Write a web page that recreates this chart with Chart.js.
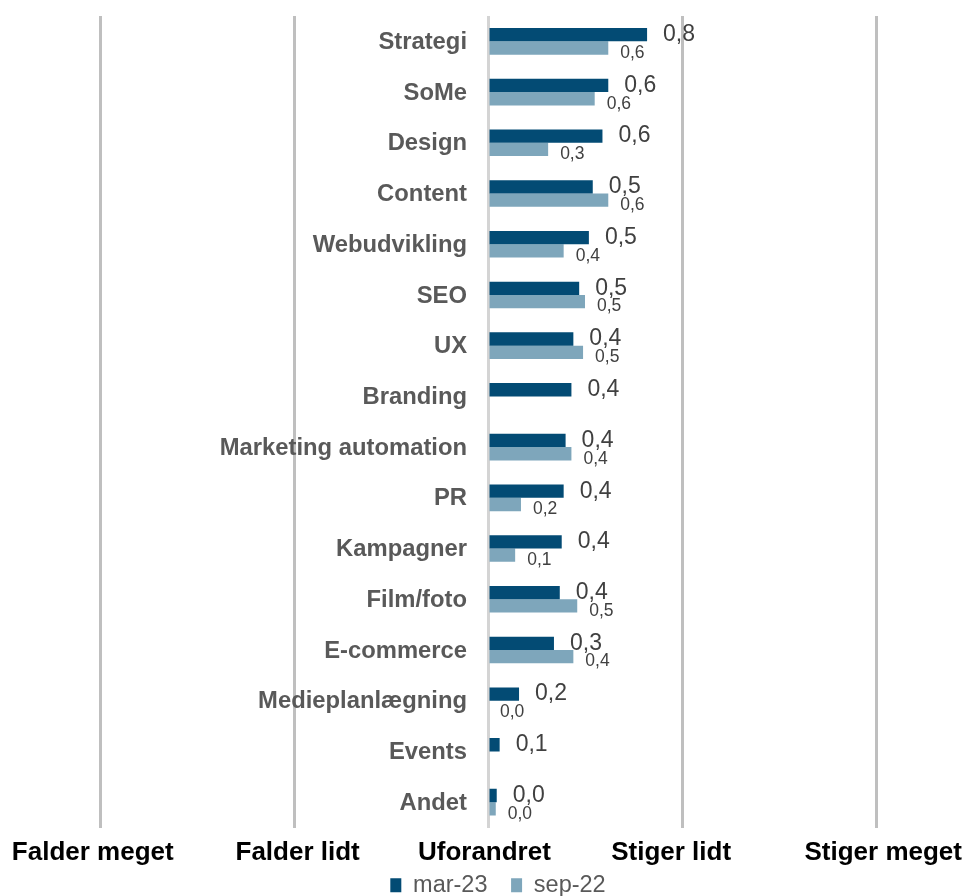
<!DOCTYPE html>
<html>
<head>
<meta charset="utf-8">
<script src="https://cdn.jsdelivr.net/npm/chart.js@4"></script>
<style>
  html, body { margin: 0; padding: 0; background: #fff; }
  #wrap { width: 965px; height: 896px; position: relative; }
</style>
</head>
<body>
<div id="wrap"><canvas id="c"></canvas></div>
<script>
const categories = ["Strategi","SoMe","Design","Content","Webudvikling","SEO","UX","Branding","Marketing automation","PR","Kampagner","Film/foto","E-commerce","Medieplanlægning","Events","Andet"];
const mar23 = [0.82,0.62,0.59,0.54,0.52,0.47,0.44,0.43,0.40,0.39,0.38,0.37,0.34,0.16,0.06,0.045];
const sep22 = [0.62,0.55,0.31,0.62,0.39,0.50,0.49,null,0.43,0.17,0.14,0.46,0.44,0.0,null,0.04];
const xTickLabels = {"-2":"Falder meget  ","-1":" Falder lidt","0":"Uforandret ","1":"Stiger lidt   ","2":"  Stiger meget"};
const seriesNames = ["mar-23","sep-22"];

const FONT = "'Liberation Sans', Arial, sans-serif";

const valueLabels = {
  id: 'valueLabels',
  afterLayout(chart) {
    // nudge legend slightly right, as in the reference
    if (chart.legend) {
      chart.legend.left += 10;
      chart.legend.right += 10;
      if (chart.legend.legendHitBoxes) chart.legend.legendHitBoxes.forEach(h => { h.left += 10; });
    }
  },
  afterDatasetsDraw(chart) {
    const ctx = chart.ctx;
    ctx.save();
    // category labels drawn next to the zero axis
    const xs = chart.scales.x, ys = chart.scales.y;
    const x0 = xs.getPixelForValue(0);
    ctx.font = 'bold 23.8px ' + FONT;
    ctx.fillStyle = '#595959';
    ctx.textAlign = 'right';
    ctx.textBaseline = 'middle';
    chart.data.labels.forEach((lab, i) => {
      ctx.fillText(lab, x0 - 21, ys.getPixelForValue(i) + 1);
    });
    // value labels
    chart.data.datasets.forEach((ds, di) => {
      const meta = chart.getDatasetMeta(di);
      meta.data.forEach((bar, i) => {
        const v = ds.data[i];
        if (v === null || v === undefined) return;
        const txt = v.toFixed(1).replace('.', ',');
        ctx.fillStyle = '#404040';
        ctx.textAlign = 'left';
        ctx.textBaseline = 'middle';
        if (di === 0) {
          ctx.font = '23px ' + FONT;
          ctx.fillText(txt, bar.x + 16, bar.y);
        } else {
          ctx.font = '17.5px ' + FONT;
          ctx.fillText(txt, bar.x + 12, bar.y + 5);
        }
      });
    });
    ctx.restore();
  }
};

new Chart(document.getElementById('c'), {
  type: 'bar',
  data: {
    labels: categories,
    datasets: [
      { label: seriesNames[0], data: mar23, backgroundColor: '#034b74', borderWidth: 0, categoryPercentage: 0.525, barPercentage: 1.0 },
      { label: seriesNames[1], data: sep22, backgroundColor: '#7ea6bb', borderWidth: 0, categoryPercentage: 0.525, barPercentage: 1.0 }
    ]
  },
  options: {
    indexAxis: 'y',
    responsive: true,
    maintainAspectRatio: false,
    animation: false,
    layout: { padding: { top: 16, left: 100, right: 89, bottom: -11 } },
    scales: {
      x: {
        min: -2, max: 2,
        grid: {
          color: (c) => c.tick && c.tick.value === 0 ? '#d4d4d4' : '#bfbfbf',
          lineWidth: 3,
          drawTicks: false
        },
        border: { display: false },
        ticks: {
          stepSize: 1,
          padding: 17,
          color: '#000',
          maxRotation: 0,
          font: { family: FONT, size: 26, weight: 'bold', lineHeight: 0.615 },
          callback: (v) => xTickLabels[String(v)] || ''
        },
        afterFit(scale) {
          scale.paddingLeft = 0;
          scale.paddingRight = 0;
          scale.height = 42;
        }
      },
      y: {
        grid: { display: false, drawTicks: false },
        border: { display: false },
        ticks: { display: false },
        afterFit(scale) {
          scale.paddingTop = 0;
          scale.paddingBottom = 0;
        }
      }
    },
    plugins: {
      legend: {
        position: 'bottom',
        labels: {
          color: '#595959',
          boxWidth: 11,
          boxHeight: 14,
          padding: 4,
          font: { family: FONT, size: 23.5 },
          generateLabels(chart) {
            const items = Chart.defaults.plugins.legend.labels.generateLabels(chart);
            items.forEach((it, i) => { if (i < items.length - 1) it.text = it.text + '   '; it.lineWidth = 0; });
            return items;
          }
        }
      },
      tooltip: { enabled: false }
    }
  },
  plugins: [valueLabels]
});
</script>
</body>
</html>
